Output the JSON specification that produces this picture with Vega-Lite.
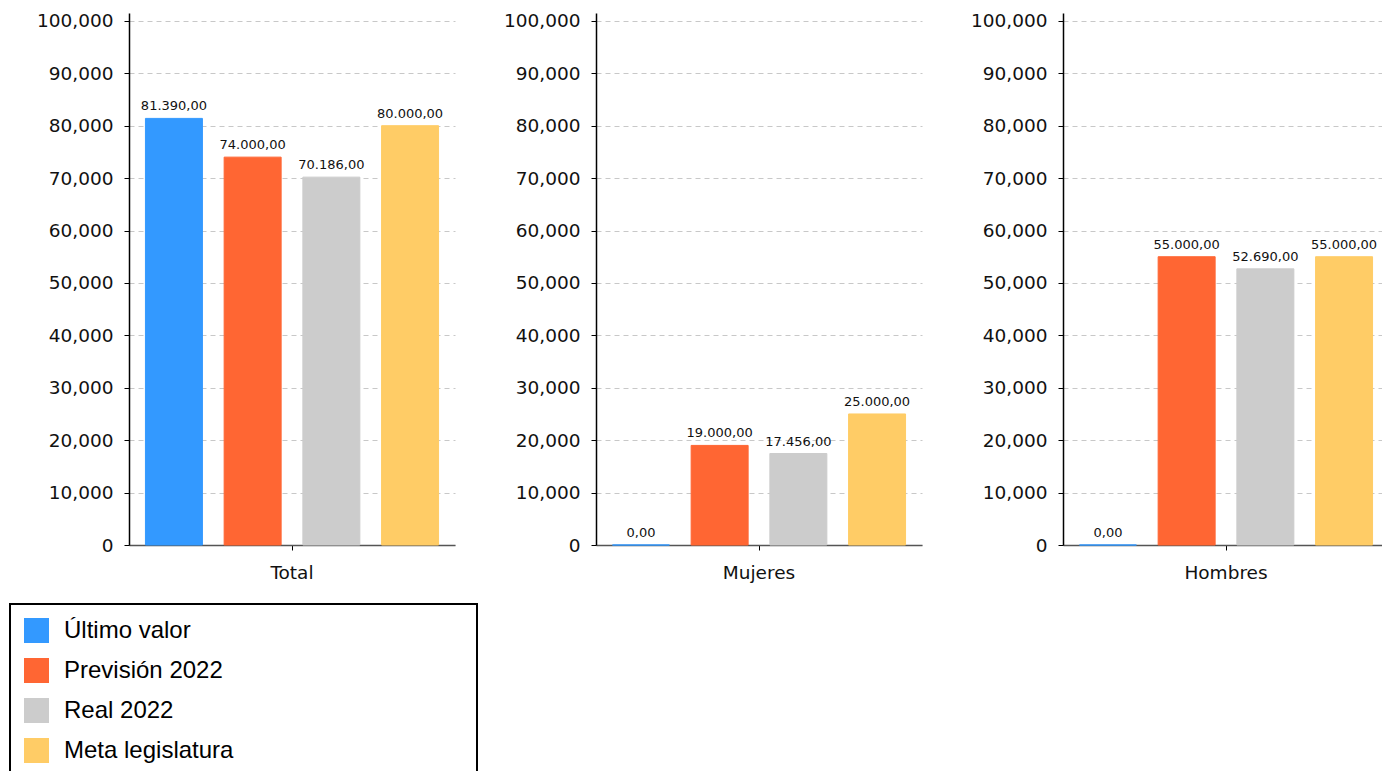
{
  "$schema": "https://vega.github.io/schema/vega-lite/v6.json",
  "padding": {"left": 9, "top": 11, "right": 0, "bottom": 0},
  "autosize": {"type": "pad"},
  "background": "white",
  "data": {
    "values": [
      {"grupo": "Total", "serie": "Último valor", "valor": 81390},
      {"grupo": "Total", "serie": "Previsión 2022", "valor": 74000},
      {"grupo": "Total", "serie": "Real 2022", "valor": 70186},
      {"grupo": "Total", "serie": "Meta legislatura", "valor": 80000},
      {"grupo": "Mujeres", "serie": "Último valor", "valor": 0},
      {"grupo": "Mujeres", "serie": "Previsión 2022", "valor": 19000},
      {"grupo": "Mujeres", "serie": "Real 2022", "valor": 17456},
      {"grupo": "Mujeres", "serie": "Meta legislatura", "valor": 25000},
      {"grupo": "Hombres", "serie": "Último valor", "valor": 0},
      {"grupo": "Hombres", "serie": "Previsión 2022", "valor": 55000},
      {"grupo": "Hombres", "serie": "Real 2022", "valor": 52690},
      {"grupo": "Hombres", "serie": "Meta legislatura", "valor": 55000}
    ]
  },
  "facet": {
    "column": {
      "field": "grupo",
      "type": "nominal",
      "sort": ["Total", "Mujeres", "Hombres"],
      "header": {"labels": false, "title": null}
    }
  },
  "spacing": 48,
  "spec": {
    "width": 326,
    "height": 532,
    "encoding": {
      "x": {
        "field": "grupo",
        "type": "nominal",
        "title": null,
        "scale": {"paddingInner": 0, "paddingOuter": 0},
        "axis": {
          "labelAngle": 0,
          "labelFont": "DejaVu Sans",
          "labelFontSize": 18.5,
          "labelColor": "#111",
          "labelPadding": 13,
          "tickSize": 5,
          "tickColor": "#000",
          "domainColor": "#555",
          "domainWidth": 1.5
        }
      },
      "xOffset": {
        "field": "serie",
        "type": "nominal",
        "sort": ["Último valor", "Previsión 2022", "Real 2022", "Meta legislatura"],
        "scale": {"paddingInner": 0.276, "paddingOuter": 0.209}
      },
      "y": {
        "field": "valor",
        "type": "quantitative",
        "title": null,
        "scale": {"domain": [0, 101500], "nice": false},
        "axis": {
          "values": [0, 10000, 20000, 30000, 40000, 50000, 60000, 70000, 80000, 90000, 100000],
          "format": ",d",
          "labelExpr": "replace(datum.label, '.', ',')",
          "labelFont": "DejaVu Sans",
          "labelFontSize": 18.5,
          "labelColor": "#111",
          "labelPadding": 11,
          "tickSize": 5,
          "tickColor": "#000",
          "domainColor": "#000",
          "domainWidth": 1.5,
          "grid": true,
          "gridColor": "#c8c8c8",
          "gridDash": [5, 4],
          "gridWidth": 1
        }
      }
    },
    "layer": [
      {
        "mark": {"type": "bar", "strokeWidth": 1},
        "encoding": {
          "color": {
            "field": "serie",
            "type": "nominal",
            "sort": ["Último valor", "Previsión 2022", "Real 2022", "Meta legislatura"],
            "scale": {
              "domain": ["Último valor", "Previsión 2022", "Real 2022", "Meta legislatura"],
              "range": ["#3399ff", "#ff6633", "#cccccc", "#ffcc66"]
            },
            "legend": {
              "title": "\u00a0",
              "titleOrient": "right",
              "titlePadding": 230,
              "titleFontSize": 10,
              "orient": "none",
              "legendX": -119,
              "legendY": 591,
              "direction": "vertical",
              "symbolType": "square",
              "symbolSize": 625,
              "symbolStrokeWidth": 0,
              "labelFont": "Liberation Sans",
              "labelFontSize": 24,
              "labelLimit": 400,
              "labelColor": "#000",
              "labelOffset": 15,
              "rowPadding": 15,
              "padding": 14,
              "strokeColor": "#000",
              "fillColor": "white"
            }
          },
          "stroke": {
            "field": "serie",
            "type": "nominal",
            "scale": {
              "domain": ["Último valor", "Previsión 2022", "Real 2022", "Meta legislatura"],
              "range": ["#3399ff", "#ff6633", "#cccccc", "#ffcc66"]
            },
            "legend": null
          }
        }
      },
      {
        "mark": {"type": "text", "baseline": "bottom", "dy": -5, "font": "DejaVu Sans", "fontSize": 13, "color": "#111"},
        "encoding": {
          "text": {"field": "valor", "type": "quantitative", "format": ",.2f"}
        }
      }
    ]
  },
  "resolve": {
    "scale": {"x": "independent", "xOffset": "independent"},
    "axis": {"y": "independent"}
  },
  "config": {
    "locale": {
      "number": {"decimal": ",", "thousands": ".", "grouping": [3], "currency": ["", " €"]}
    },
    "legend": {"strokeWidth": 2},
    "view": {"stroke": null}
  }
}
